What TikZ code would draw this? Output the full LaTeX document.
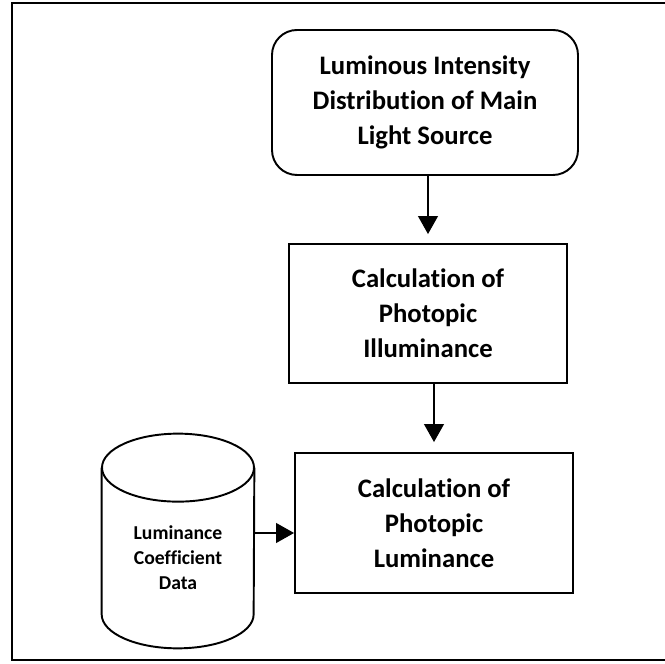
\documentclass[tikz,border=0pt]{standalone}
\usepackage{fontspec}
\setmainfont{Carlito}[Ligatures=NoCommon]
\usetikzlibrary{positioning}
\usetikzlibrary{arrows.meta}
\tikzset{startbox/.style={draw, line width=1.1pt, rounded corners=0.5cm, minimum width=6.12cm, minimum height=2.9cm, inner sep=0pt, align=center, font=\fontsize{15.2}{19.9}\selectfont\bfseries}}
\tikzset{calcbox/.style={draw, line width=1.1pt, minimum width=5.56cm, minimum height=2.8cm, inner sep=0pt, align=center, font=\fontsize{15.2}{19.9}\selectfont\bfseries}}
\tikzset{arr/.style={-{Triangle[width=0.4cm,length=0.36cm]}, line width=0.6pt}}

\begin{document}
\begin{tikzpicture}
\useasboundingbox (0,0) rectangle (13.3,13.28);
% outer frame
\draw[line width=1.2pt] (13.3,13.22) -- (0.24,13.22) -- (0.24,0.08) -- (13.3,0.08);
\node[startbox] (source) at (8.5,11.23) {Luminous Intensity\\Distribution of Main\\Light Source};
\node[calcbox, minimum height=2.78cm] (illum) at (8.56,7.01) {Calculation of\\Photopic\\Illuminance};
\node[calcbox] (lumcalc) at (8.68,2.82) {Calculation of\\Photopic\\Luminance};
% data store
\node[minimum width=3.04cm, minimum height=4.28cm, inner sep=0pt] (lcd) at (3.56,2.46) {};
\draw[line width=1.1pt] ([yshift=-0.68cm]lcd.north) ellipse (1.52cm and 0.68cm);
\draw[line width=1.1pt] ([yshift=-0.68cm]lcd.north west) -- ([yshift=0.68cm]lcd.south west) arc (180:360:1.52cm and 0.68cm) -- ([yshift=-0.68cm]lcd.north east);
\node[font=\fontsize{11.2}{14.2}\selectfont\bfseries, align=center] (lcdtext) at ([yshift=-0.34cm]lcd.center) {Luminance\\Coefficient\\Data};
\coordinate (lcdout) at ([yshift=0.16cm]lcd.east);
\draw[arr, shorten >=0.18cm] (illum.north |- source.south) -- (illum.north);
\draw[arr, shorten >=0.2cm] (lumcalc.north |- illum.south) -- (lumcalc.north);
\draw[arr] (lcdout) -- (lcdout -| lumcalc.west);
\end{tikzpicture}
\end{document}
